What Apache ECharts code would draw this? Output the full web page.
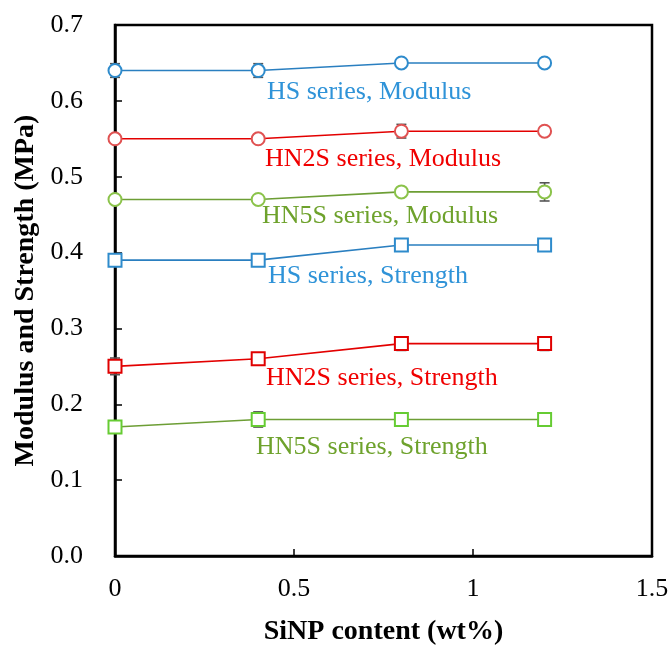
<!DOCTYPE html>
<html>
<head>
<meta charset="utf-8">
<script src="https://cdn.jsdelivr.net/npm/echarts@6/dist/echarts.min.js"></script>
<style>
  html, body { margin: 0; padding: 0; background: #fff; }
  #chart { width: 670px; height: 646px; }
</style>
</head>
<body>
<div id="chart"></div>
<script>
// SiNP loading (wt%)
const siNP = [0, 0.4, 0.8, 1.2];

// Modulus (MPa)
const hsModulus   = [0.64, 0.64, 0.65, 0.65];
const hn2sModulus = [0.55, 0.55, 0.56, 0.56];
const hn5sModulus = [0.47, 0.47, 0.48, 0.48];

// Strength (MPa)
const hsStrength   = [0.39, 0.39, 0.41, 0.41];
const hn2sStrength = [0.25, 0.26, 0.28, 0.28];
const hn5sStrength = [0.17, 0.18, 0.18, 0.18];

// Standard deviations
const hsModulusErr    = [0.009, 0.009, 0.004, 0.004];
const hn2sModulusErr  = [0.004, 0.004, 0.009, 0.004];
const hn5sModulusErr  = [0.004, 0.004, 0.004, 0.012];
const hsStrengthErr   = [0.004, 0.004, 0.004, 0.004];
const hn2sStrengthErr = [0.011, 0.004, 0.009, 0.009];
const hn5sStrengthErr = [0.004, 0.010, 0.004, 0.004];

const xTicks = { min: 0, max: 1.5, step: 0.5 };
const yTicks = { min: 0, max: 0.7, step: 0.1 };

const seriesDefs = [
  { name: 'HS series, Modulus',    values: hsModulus,    err: hsModulusErr,    symbol: 'circle', line: '#2a7fc0', mark: '#2e8bcc', text: '#2f93d8', tx: 267, ty: 93 },
  { name: 'HN2S series, Modulus',  values: hn2sModulus,  err: hn2sModulusErr,  symbol: 'circle', line: '#e30000', mark: '#e05252', text: '#f00000', tx: 265, ty: 160 },
  { name: 'HN5S series, Modulus',  values: hn5sModulus,  err: hn5sModulusErr,  symbol: 'circle', line: '#6d9e35', mark: '#8bc34a', text: '#6ea22c', tx: 262, ty: 217 },
  { name: 'HS series, Strength',   values: hsStrength,   err: hsStrengthErr,   symbol: 'rect',   line: '#2a7fc0', mark: '#2e8bcc', text: '#2f93d8', tx: 268, ty: 277 },
  { name: 'HN2S series, Strength', values: hn2sStrength, err: hn2sStrengthErr, symbol: 'rect',   line: '#e30000', mark: '#e00000', text: '#f00000', tx: 266, ty: 379 },
  { name: 'HN5S series, Strength', values: hn5sStrength, err: hn5sStrengthErr, symbol: 'rect',   line: '#6d9e35', mark: '#66cc33', text: '#6ea22c', tx: 256, ty: 448 }
];

const FONT = '"Liberation Serif", "Times New Roman", serif';

function errorBarItem(params, api) {
  const x = api.value(0), y = api.value(1), e = api.value(2);
  const top = api.coord([x, y + e]);
  const bot = api.coord([x, y - e]);
  const cap = 5;
  const style = { stroke: '#555555', lineWidth: 1.6 };
  return {
    type: 'group',
    children: [
      { type: 'line', shape: { x1: top[0], y1: top[1], x2: bot[0], y2: bot[1] }, style },
      { type: 'line', shape: { x1: top[0] - cap, y1: top[1], x2: top[0] + cap, y2: top[1] }, style },
      { type: 'line', shape: { x1: bot[0] - cap, y1: bot[1], x2: bot[0] + cap, y2: bot[1] }, style }
    ]
  };
}

const series = [];
seriesDefs.forEach(d => {
  series.push({
    type: 'custom',
    name: d.name + ' error',
    renderItem: errorBarItem,
    data: siNP.map((x, i) => [x, d.values[i], d.err[i]]),
    z: 1,
    silent: true
  });
  series.push({
    type: 'line',
    name: d.name,
    data: siNP.map((x, i) => [x, d.values[i]]),
    symbol: d.symbol,
    symbolSize: 13,
    showAllSymbol: true,
    lineStyle: { color: d.line, width: 1.6 },
    itemStyle: { color: '#ffffff', borderColor: d.mark, borderWidth: 2 },
    z: 3
  });
});

const chart = echarts.init(document.getElementById('chart'), null, { renderer: 'canvas' });
chart.setOption({
  animation: false,
  backgroundColor: '#ffffff',
  grid: {
    left: 115, right: 18, top: 25, bottom: 90,
    containLabel: false,
    outerBoundsMode: 'none',
    show: true, borderColor: '#000', borderWidth: 2.5, backgroundColor: 'transparent'
  },
  xAxis: {
    type: 'value',
    min: xTicks.min, max: xTicks.max, interval: xTicks.step,
    name: 'SiNP content (wt%)',
    nameLocation: 'middle',
    nameGap: 62,
    nameTextStyle: { fontFamily: FONT, fontWeight: 'bold', fontSize: 28, color: '#000' },
    axisLine: { show: true, lineStyle: { color: '#000', width: 2.5 } },
    axisTick: { show: true, inside: true, length: 7, lineStyle: { color: '#000', width: 1.5 } },
    axisLabel: { fontFamily: FONT, fontSize: 26, color: '#000', margin: 20 },
    splitLine: { show: false }
  },
  yAxis: {
    type: 'value',
    min: yTicks.min, max: yTicks.max, interval: yTicks.step,
    name: 'Modulus and Strength (MPa)',
    nameLocation: 'middle',
    nameGap: 75,
    nameTextStyle: { fontFamily: FONT, fontWeight: 'bold', fontSize: 28, color: '#000' },
    axisLine: { show: true, lineStyle: { color: '#000', width: 2.5 } },
    axisTick: { show: true, inside: true, length: 7, lineStyle: { color: '#000', width: 1.5 } },
    axisLabel: { fontFamily: FONT, fontSize: 26, color: '#000', margin: 32, formatter: v => v.toFixed(1) },
    splitLine: { show: false }
  },
  graphic: seriesDefs.map(d => ({
    type: 'text',
    left: d.tx,
    top: d.ty - 14,
    silent: true,
    style: { text: d.name, fill: d.text, font: '26px ' + FONT }
  })),
  series
});
</script>
</body>
</html>
